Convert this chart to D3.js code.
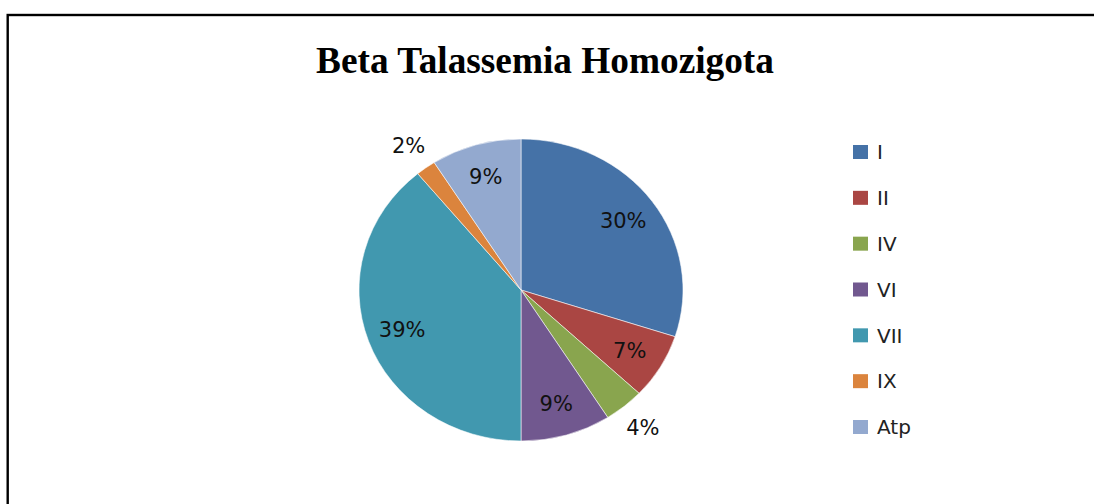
<!DOCTYPE html>
<html>
<head>
<meta charset="utf-8">
<script src="https://cdn.jsdelivr.net/npm/d3@7"></script>
<style>
  html, body { margin: 0; padding: 0; background: #fff; }
  svg { display: block; }
</style>
</head>
<body>
<svg id="chart" width="1094" height="504"></svg>
<script>
// Beta thalassemia homozygous cases by group (percent)
const categories = ["I", "II", "IV", "VI", "VII", "IX", "Atp"];
const values = [30, 7, 4, 9, 39, 2, 9];
const colors = ["#4572A7", "#AA4643", "#89A54E", "#71588F", "#4198AF", "#DB843D", "#93A9CF"];
const titleText = "Beta Talassemia Homozigota";

const svg = d3.select("#chart");
const W = 1094, H = 504;

// frame around the chart area
svg.append("rect")
  .attr("x", 7.7).attr("y", 15)
  .attr("width", W + 20).attr("height", H + 20)
  .attr("fill", "none").attr("stroke", "#000").attr("stroke-width", 2.4);

svg.append("text")
  .attr("x", 545).attr("y", 73)
  .attr("text-anchor", "middle")
  .attr("font-family", "'Liberation Serif', 'Times New Roman', serif")
  .attr("font-weight", "bold")
  .attr("font-size", 37.3)
  .attr("fill", "#000")
  .text(titleText);

// pie, drawn slightly wider than tall
const cx = 521, cy = 290, rx = 162, ry = 151;
const sx = rx / ry;

const pie = d3.pie().sort(null).value(d => d.value);
const data = pie(categories.map((c, i) => ({ cat: c, value: values[i], color: colors[i] })));

const arc = d3.arc().innerRadius(0).outerRadius(ry);
const gPie = svg.append("g").attr("transform", `translate(${cx},${cy}) scale(${sx},1)`);

gPie.selectAll("path")
  .data(data)
  .join("path")
  .attr("d", arc)
  .attr("fill", d => d.data.color)
  .attr("stroke", "rgba(255,255,255,0.55)")
  .attr("stroke-width", 1)
  .attr("vector-effect", "non-scaling-stroke");

// percentage labels: inside for larger slices, outside for small ones
const inner = d3.arc().innerRadius(ry * 0.78).outerRadius(ry * 0.78);
const outer = d3.arc().innerRadius(ry * 1.18).outerRadius(ry * 1.18);
const total = d3.sum(values);

svg.append("g")
  .selectAll("text")
  .data(data)
  .join("text")
  .attr("transform", d => {
    const p = (d.data.value < 5 ? outer : inner).centroid(d);
    return `translate(${cx + p[0] * sx},${cy + p[1]})`;
  })
  .attr("text-anchor", "middle")
  .attr("dy", "0.36em")
  .attr("font-family", "'DejaVu Sans', Verdana, sans-serif")
  .attr("font-size", 21)
  .attr("fill", "#111")
  .text(d => Math.round(d.data.value / total * 100) + "%");

// legend
const legend = svg.append("g");
const ly = d3.scalePoint().domain(categories).range([152, 427]);

const items = legend.selectAll("g")
  .data(categories)
  .join("g")
  .attr("transform", d => `translate(853,${ly(d)})`);

items.append("rect")
  .attr("x", 0).attr("y", -7)
  .attr("width", 15).attr("height", 14)
  .attr("fill", (d, i) => colors[i]);

items.append("text")
  .attr("x", 24).attr("y", 0)
  .attr("dy", "0.36em")
  .attr("font-family", "'DejaVu Sans', Verdana, sans-serif")
  .attr("font-size", 20)
  .attr("fill", "#222")
  .text(d => d);
</script>
</body>
</html>
